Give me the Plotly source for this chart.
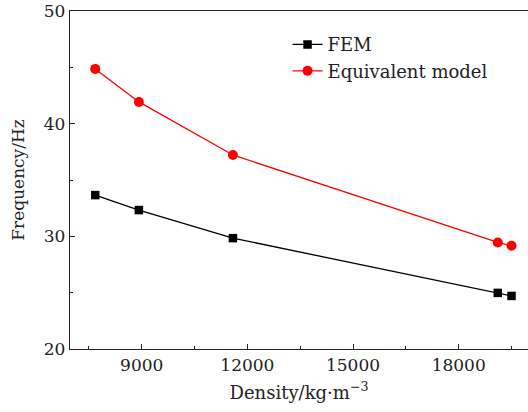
import plotly.graph_objects as go

density = [7680, 8920, 11590, 19110, 19500]
fem = [33.66, 32.33, 29.84, 24.98, 24.71]
equiv = [44.86, 41.93, 37.22, 29.46, 29.16]

x_ticks = [9000, 12000, 15000, 18000]
y_ticks = [20, 30, 40, 50]

font = "DejaVu Serif"

fig = go.Figure()
fig.add_trace(go.Scatter(x=density, y=fem, mode="lines+markers", name="FEM",
                         line=dict(color="black", width=1.3),
                         marker=dict(symbol="square", size=8.5, color="black")))
fig.add_trace(go.Scatter(x=density, y=equiv, mode="lines+markers", name="Equivalent model",
                         line=dict(color="red", width=1.3),
                         marker=dict(symbol="circle", size=10, color="red")))

fig.update_layout(
    width=528, height=412,
    margin=dict(l=70, r=0, t=11, b=63),
    plot_bgcolor="white", paper_bgcolor="white",
    font=dict(family=font, size=17, color="#222"),
    showlegend=True,
    legend=dict(x=0.475, y=0.955, xanchor="left", yanchor="top",
                bgcolor="rgba(0,0,0,0)", font=dict(size=18, family=font),
                tracegroupgap=0, itemwidth=30),
)
fig.update_xaxes(range=[6964, 19968], tickvals=x_ticks, ticktext=[str(v) for v in x_ticks],
                 ticks="inside", ticklen=5, tickcolor="#222", showgrid=False, zeroline=False,
                 showline=True, linecolor="#222", linewidth=1.3, mirror=True,
                 minor=dict(tickvals=[7500, 10500, 13500, 16500, 19500], ticks="inside", ticklen=3, tickcolor="#222"),
                 title=dict(text="Density/kg·m<sup>−3</sup>", font=dict(size=18, family=font), standoff=12),
                 tickfont=dict(size=17, family=font))
fig.update_yaxes(range=[20, 50], tickvals=y_ticks, ticktext=[str(v) for v in y_ticks],
                 ticks="inside", ticklen=5, tickcolor="#222", showgrid=False, zeroline=False,
                 showline=True, linecolor="#222", linewidth=1.3,
                 minor=dict(tickvals=[25, 35, 45], ticks="inside", ticklen=3, tickcolor="#222"),
                 title=dict(text="Frequency/Hz", font=dict(size=17, family=font), standoff=14),
                 tickfont=dict(size=17, family=font))

fig.write_html("out.html")
